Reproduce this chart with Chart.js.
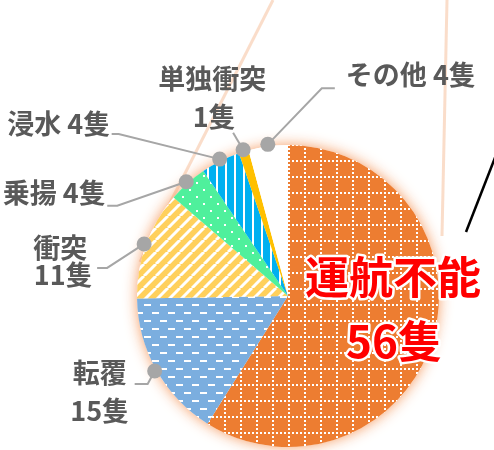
<!DOCTYPE html>
<html>
<head>
<meta charset="utf-8">
<script src="https://cdn.jsdelivr.net/npm/chart.js@4.4.1/dist/chart.umd.min.js"></script>
<style>
html,body{margin:0;padding:0;background:#fff;}
#wrap{width:494px;height:450px;position:relative;}
</style>
</head>
<body>
<div id="wrap"><canvas id="c" width="494" height="450"></canvas></div>
<script>
// ---- data ----
const categories = ['運航不能', '転覆', '衝突', '乗揚', '浸水', '単独衝突', 'その他'];
const counts = [56, 15, 11, 4, 4, 1, 4];
const unitLabel = '隻';
// how each label's text is split into lines (true = name and count on two lines)
const twoLine = [true, true, true, false, false, true, false];

// ---- styles / layout (offsets relative to the slice's edge dot) ----
const labelLayout = [
  null, // main label drawn separately
  { lines: [[-55, 2], [-55, 40]], leader: [[-7, 13], [-20, 13]] },
  { lines: [[-84, 4], [-81, 31]], leader: [[-37, 24], [-47, 24]] },
  { lines: [[-132, 11]], leader: [[-69, 24], [-79, 24]] },
  { lines: [[-161, -35]], leader: [[-101, -25], [-108, -25]] },
  { lines: [[-31, -71], [-29, -33]], leader: [[-10, -17]] },
  { lines: [[143, -70]], leader: [[54, -56], [67, -56]] }
];
const mainLabelOffset = [[105, -19], [106, 45]];

const ctx0 = document.getElementById('c').getContext('2d');
function makePattern(w, h, bg, draw) {
  const c = document.createElement('canvas');
  c.width = w; c.height = h;
  const x = c.getContext('2d');
  x.fillStyle = bg; x.fillRect(0, 0, w, h);
  x.fillStyle = '#fff'; x.strokeStyle = '#fff';
  draw(x, w, h);
  return ctx0.createPattern(c, 'repeat');
}
const fills = [
  makePattern(16, 16, '#ED7D31', (x) => {
    for (let i = 0; i < 16; i += 4) { x.fillRect(i, 0, 2, 2); x.fillRect(0, i, 2, 2); }
  }),
  makePattern(16, 16, '#7BAEDF', (x) => {
    x.fillRect(0, 0, 7, 2); x.fillRect(8, 8, 7, 2);
  }),
  makePattern(12, 12, '#FFD05C', (x, w, h) => {
    x.lineWidth = 3;
    for (let k = -12; k <= 12; k += 12) { x.beginPath(); x.moveTo(k, h); x.lineTo(k + w, 0); x.stroke(); }
  }),
  makePattern(14, 14, '#4FF09C', (x) => {
    x.fillRect(0, 0, 2, 2); x.fillRect(7, 7, 2, 2);
  }),
  makePattern(9, 9, '#00B0F0', (x, w, h) => {
    x.fillRect(0, 0, 2, h);
  }),
  '#FFC000',
  '#FFFFFF'
];

const decoPlugin = {
  id: 'deco',
  beforeDatasetsDraw(chart) {
    const ctx = chart.ctx;
    ctx.save();
    // faint callout lines behind the pie
    ctx.strokeStyle = 'rgba(248,206,180,0.7)';
    ctx.lineWidth = 3;
    ctx.beginPath(); ctx.moveTo(447, 0); ctx.lineTo(442, 236); ctx.stroke();
    ctx.beginPath(); ctx.moveTo(273, 0); ctx.lineTo(140, 262); ctx.stroke();
    ctx.strokeStyle = '#000';
    ctx.lineWidth = 2.5;
    ctx.beginPath(); ctx.moveTo(498, 150); ctx.lineTo(466, 232); ctx.stroke();
    // orange glow
    const a = chart.getDatasetMeta(0).data[0];
    ctx.shadowColor = 'rgba(244,150,90,0.95)';
    ctx.shadowBlur = 14;
    ctx.fillStyle = '#fff';
    ctx.beginPath(); ctx.arc(a.x, a.y, a.outerRadius, 0, Math.PI * 2); ctx.fill();
    ctx.restore();
  },
  afterDatasetsDraw(chart) {
    const ctx = chart.ctx;
    const meta = chart.getDatasetMeta(0);
    ctx.save();
    ctx.textAlign = 'center';
    ctx.textBaseline = 'middle';
    meta.data.forEach((arc, i) => {
      const lay = labelLayout[i];
      if (!lay) return;
      const mid = (arc.startAngle + arc.endAngle) / 2;
      const r = arc.outerRadius + 2;
      const dx = arc.x + Math.cos(mid) * r;
      const dy = arc.y + Math.sin(mid) * r;
      ctx.strokeStyle = '#A6A6A6';
      ctx.lineWidth = 2;
      ctx.beginPath(); ctx.moveTo(dx, dy);
      lay.leader.forEach(p => ctx.lineTo(dx + p[0], dy + p[1]));
      ctx.stroke();
      ctx.fillStyle = '#A6A6A6';
      ctx.beginPath(); ctx.arc(dx, dy, 7.5, 0, Math.PI * 2); ctx.fill();
      const texts = twoLine[i] ? [categories[i], counts[i] + unitLabel] : [categories[i] + ' ' + counts[i] + unitLabel];
      ctx.fillStyle = '#595959';
      ctx.font = 'bold 27px "Noto Sans CJK JP", sans-serif';
      texts.forEach((t, j) => ctx.fillText(t, dx + lay.lines[j][0], dy + lay.lines[j][1]));
    });
    // main label
    const a = meta.data[0];
    const mt = [categories[0], counts[0] + unitLabel];
    ctx.font = 'bold 44px "Noto Sans CJK JP", sans-serif';
    ctx.lineJoin = 'round';
    mt.forEach((t, j) => {
      const x = a.x + mainLabelOffset[j][0], y = a.y + mainLabelOffset[j][1];
      ctx.strokeStyle = '#fff'; ctx.lineWidth = 5;
      ctx.strokeText(t, x, y);
      ctx.fillStyle = '#FF0000';
      ctx.fillText(t, x, y);
    });
    ctx.restore();
  }
};

new Chart(ctx0, {
  type: 'pie',
  data: {
    labels: categories,
    datasets: [{ data: counts, backgroundColor: fills, borderWidth: 0, hoverOffset: 0 }]
  },
  options: {
    responsive: false,
    animation: false,
    devicePixelRatio: 1,
    layout: { padding: { left: 137, right: 55, top: 145, bottom: 3 } },
    plugins: { legend: { display: false }, tooltip: { enabled: false } }
  },
  plugins: [decoPlugin]
});
</script>
</body>
</html>
